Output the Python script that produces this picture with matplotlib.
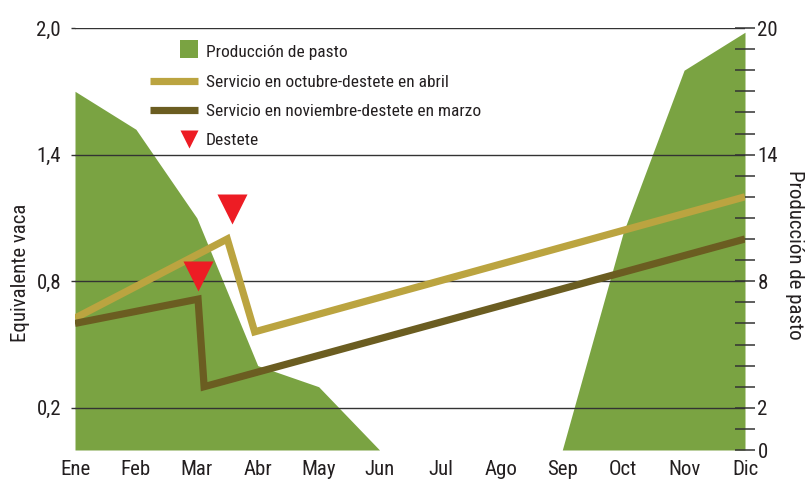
import numpy as np
import matplotlib
matplotlib.use("Agg")
import matplotlib.pyplot as plt
import matplotlib.font_manager as fm
from matplotlib.lines import Line2D
from matplotlib.patches import Rectangle

# ---------------- data ----------------
months = ['Ene', 'Feb', 'Mar', 'Abr', 'May', 'Jun', 'Jul', 'Ago', 'Sep', 'Oct', 'Nov', 'Dic']
pasto = [17, 15.2, 11, 4, 3, 0, 0, 0, 0, 10.3, 18, 19.8]          # right axis

oct_x = [0, 2.5, 2.95, 11]                                          # month index
oct_y = [0.625, 1.0, 0.56, 1.2]                                     # Equivalente vaca
nov_x = [0, 2.02, 2.12, 11]
nov_y = [0.6, 0.715, 0.30, 1.0]
destete_x = [2.02, 2.57]
destete_y = [0.825, 1.14]

left_ticks = [0.2, 0.8, 1.4, 2.0]
left_labels = ['0,2', '0,8', '1,4', '2,0']
right_major = [0, 2, 8, 14, 20]
right_minor = list(range(0, 21))

legend_labels = ['Producción de pasto',
                 'Servicio en octubre-destete en abril',
                 'Servicio en noviembre-destete en marzo',
                 'Destete']

# ---------------- font choice ----------------
entries = fm.fontManager.ttflist
names = {f.name for f in entries}
stretch = 'normal'
if 'Roboto Condensed' in names:
    fam, k = 'Roboto Condensed', 1.0
elif 'Liberation Sans Narrow' in names:
    fam, k = 'Liberation Sans Narrow', 1.0
elif 'Open Sans Condensed' in names:
    fam, k = 'Open Sans Condensed', 0.95
elif any(f.name == 'DejaVu Sans' and str(f.stretch) in ('condensed', 'semi-condensed', '87.5', '75')
         for f in entries):
    fam, k, stretch = 'DejaVu Sans', 0.92, 'condensed'
else:
    fam, k = 'Liberation Sans', 0.85
plt.rcParams['font.family'] = [fam, 'DejaVu Sans']
plt.rcParams['font.stretch'] = stretch

GREEN = '#7aa342'
GOLD = '#bba440'
DARK = '#6b5d21'
RED = '#ed1c24'
GRID = '#333333'
TXT = '#231f20'

W, H = 808, 484
fig = plt.figure(figsize=(W / 100, H / 100), dpi=100)
L, R, T, B = 75, 745, 28, 450
ax = fig.add_axes([L / W, 1 - B / H, (R - L) / W, (B - T) / H])
ax2 = ax.twinx()
ax.set_zorder(ax2.get_zorder() + 1)
ax.patch.set_visible(False)

x = np.arange(len(months))

# pasture area (right axis)
ax2.fill_between(x, 0, pasto, color=GREEN, lw=0, zorder=1)
ax2.set_ylim(0, 20)
ax2.set_yticks(right_major)
ax2.set_yticks(right_minor, minor=True)
ax2.set_yticklabels([str(v) for v in right_major])
ax2.tick_params(axis='y', which='both', direction='inout', length=15, width=1.1,
                color=GRID, labelsize=15 * k, pad=1.5, labelcolor=TXT)
ax2.set_ylabel('Producción de pasto', rotation=270, fontsize=15 * k, color=TXT)
ax2.yaxis.set_label_coords(1.0746, 0.462)
ax2.yaxis.label.set_va('center')

# grid lines (left axis)
for v in left_ticks:
    ax.axhline(v, color=GRID, lw=1.0, zorder=2)

# lines
ax.plot(oct_x, oct_y, color=GOLD, lw=5.2, solid_joinstyle='miter',
        solid_capstyle='butt', zorder=3)
ax.plot(nov_x, nov_y, color=DARK, lw=5.2, solid_joinstyle='miter',
        solid_capstyle='butt', zorder=3)
ax.plot(destete_x, destete_y, linestyle='none', marker='v', ms=21,
        color=RED, mec='none', zorder=4, clip_on=False)

ax.set_xlim(0, 11)
ax.set_ylim(0, 2.0)
ax.set_xticks(x)
ax.set_xticklabels(months)
ax.set_yticks(left_ticks)
ax.set_yticklabels(left_labels)
ax.tick_params(axis='x', length=0, labelsize=15 * k, pad=7, labelcolor=TXT)
ax.tick_params(axis='y', direction='out', length=3, width=1.0, color=GRID,
               labelsize=15 * k, pad=7, labelcolor=TXT)
ax.set_ylabel('Equivalente vaca', fontsize=15 * k, color=TXT)
ax.yaxis.set_label_coords(-0.082, 0.419)
ax.yaxis.label.set_va('center')

for a in (ax, ax2):
    for s in a.spines.values():
        s.set_visible(False)

# ---------------- legend (manual) ----------------
def fx(px):
    return px / W

def fy(py):
    return 1 - py / H

fig.add_artist(Rectangle((fx(180), fy(58)), 18 / W, 18 / H, color=GREEN,
                         transform=fig.transFigure, lw=0))
fig.add_artist(Line2D([fx(150), fx(198)], [fy(80.5), fy(80.5)], color=GOLD, lw=5.2,
                      solid_capstyle='butt', transform=fig.transFigure))
fig.add_artist(Line2D([fx(150), fx(198)], [fy(110), fy(110)], color=DARK, lw=5.2,
                      solid_capstyle='butt', transform=fig.transFigure))
fig.add_artist(Line2D([fx(189)], [fy(138.5)], marker='v', ms=13, color=RED, mec='none',
                      linestyle='none', transform=fig.transFigure))
for lab, base in zip(legend_labels, [57, 87, 116, 145]):
    fig.text(fx(206), fy(base), lab, fontsize=12.5 * k, color=TXT,
             ha='left', va='baseline')

fig.savefig('out.png', dpi=100)
